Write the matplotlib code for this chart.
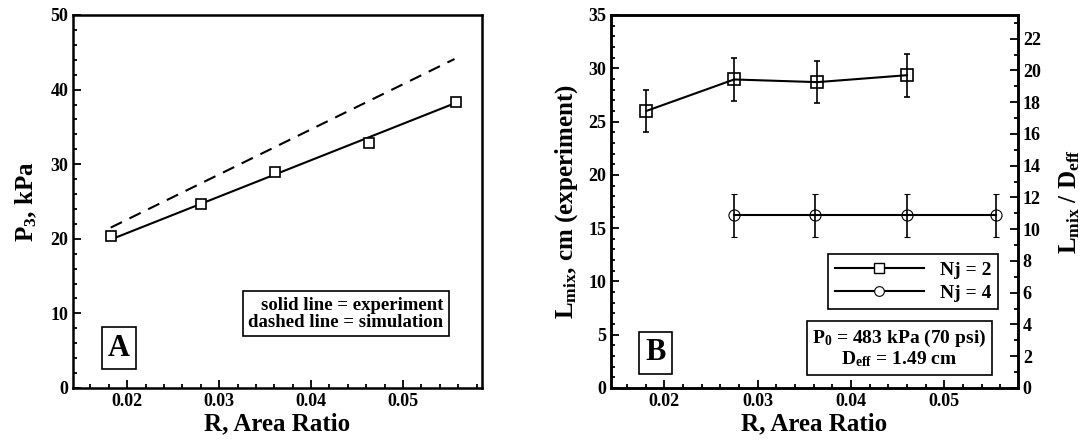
import matplotlib
matplotlib.use("Agg")
import matplotlib.pyplot as plt
from matplotlib.lines import Line2D
from matplotlib.ticker import MultipleLocator

plt.rcParams['font.family'] = 'Liberation Serif'
plt.rcParams['font.weight'] = 'bold'
plt.rcParams['axes.labelweight'] = 'bold'
plt.rcParams['mathtext.fontset'] = 'custom'
plt.rcParams['mathtext.rm'] = 'Liberation Serif:bold'
plt.rcParams['mathtext.it'] = 'Liberation Serif:bold'

# panel A data
a_x = [0.0182, 0.0280, 0.0361, 0.0463, 0.0558]
a_p3 = [20.4, 24.6, 28.9, 32.9, 38.3]
a_fit_x = [0.0182, 0.0557]
a_fit_y = [19.9, 38.2]
a_sim_x = [0.0182, 0.0556]
a_sim_y = [21.5, 44.1]

# panel B data
nj2_x = [0.0181, 0.0275, 0.0364, 0.0460]
nj2_l = [26.0, 28.95, 28.7, 29.35]
nj2_err = [2.0, 2.0, 2.0, 2.0]
nj4_x = [0.0275, 0.0362, 0.0460, 0.0555]
nj4_l = [16.2, 16.2, 16.2, 16.2]
nj4_err = [2.0, 2.0, 2.0, 2.0]
d_eff = 1.49

fig = plt.figure(figsize=(10.85, 4.41), dpi=100)
axA = fig.add_axes([0.0673, 0.1202, 0.377, 0.8458])
axB = fig.add_axes([0.5631, 0.1202, 0.3751, 0.8458])


def style(ax):
    for s in ax.spines.values():
        s.set_linewidth(1.8)
    ax.tick_params(which='both', direction='in', top=False, right=False,
                   labelsize=13, width=1.3)
    ax.tick_params(which='major', length=6)
    ax.tick_params(which='minor', length=3)
    ax.xaxis.set_major_locator(MultipleLocator(0.01))
    ax.xaxis.set_minor_locator(MultipleLocator(0.002))
    ax.set_xticks([0.02, 0.03, 0.04, 0.05])
    ax.set_xticklabels(['0.02', '0.03', '0.04', '0.05'])
    ax.set_xlabel('R, Area Ratio', fontsize=18, labelpad=2)


# ---- panel A
axA.plot(a_fit_x, a_fit_y, color='black', lw=1.5)
axA.plot(a_sim_x, a_sim_y, color='black', lw=1.5, ls=(0, (6, 4)))
axA.plot(a_x, a_p3, ls='none', marker='s', ms=7, mfc='white', mec='black', mew=1.2)
axA.set_xlim(0.0141, 0.0586)
axA.set_ylim(0, 50)
style(axA)
axA.yaxis.set_major_locator(MultipleLocator(10))
axA.yaxis.set_minor_locator(MultipleLocator(2))
axA.set_ylabel(r'P$_3$, kPa', fontsize=18, labelpad=8)
axA.text(0.667, 0.199, 'solid line = experiment\ndashed line = simulation',
         transform=axA.transAxes, ha='center', va='center', multialignment='right',
         fontsize=13.5, linespacing=1.0,
         bbox=dict(boxstyle='square,pad=0.3', fc='white', ec='black', lw=1.2))
axA.text(0.1125, 0.107, 'A', transform=axA.transAxes, ha='center', va='center',
         fontsize=22,
         bbox=dict(boxstyle='square,pad=0.2', fc='white', ec='black', lw=1.2))

# ---- panel B
axB.errorbar(nj2_x, nj2_l, yerr=nj2_err, color='black', lw=1.5, elinewidth=1.2,
             capsize=2.5, marker='s', ms=8, mfc='none', mec='black', mew=1.2)
axB.errorbar(nj4_x, nj4_l, yerr=nj4_err, color='black', lw=1.5, elinewidth=1.2,
             capsize=2.5, marker='o', ms=8, mfc='none', mec='black', mew=0.8)
axB.set_xlim(0.0143, 0.0579)
axB.set_ylim(0, 35)
style(axB)
axB.yaxis.set_major_locator(MultipleLocator(5))
axB.yaxis.set_minor_locator(MultipleLocator(1))
axB.set_ylabel(r'L$_{\mathrm{mix}}$, cm (experiment)', fontsize=18, labelpad=6)

ax2 = axB.twinx()
ax2.set_ylim(0, 35 / d_eff)
ax2.yaxis.set_major_locator(MultipleLocator(2))
ax2.yaxis.set_minor_locator(MultipleLocator(1))
ax2.tick_params(which='both', direction='in', labelsize=13, width=1.3)
ax2.tick_params(which='major', length=6)
ax2.tick_params(which='minor', length=3)
for s in ax2.spines.values():
    s.set_linewidth(1.8)
ax2.set_ylabel(r'L$_{\mathrm{mix}}$ / D$_{\mathrm{eff}}$', fontsize=18,
               rotation=90, labelpad=12)

handles = [
    Line2D([], [], color='black', lw=1.5, marker='s', ms=7, mfc='white', mec='black'),
    Line2D([], [], color='black', lw=1.5, marker='o', ms=7, mfc='white', mec='black', mew=0.8),
]
leg = axB.legend(handles, ['Nj = 2', 'Nj = 4'], loc='upper right',
                 bbox_to_anchor=(0.951, 0.359), borderaxespad=0, fontsize=14,
                 handlelength=4.6, fancybox=False, framealpha=1, edgecolor='black',
                 borderpad=0.35, labelspacing=0.3, markerfirst=True)
leg.get_frame().set_linewidth(1.2)

axB.text(0.709, 0.106, 'P$_0$ = 483 kPa (70 psi)\nD$_{\\mathrm{eff}}$ = 1.49 cm',
         transform=axB.transAxes, ha='center', va='center', multialignment='center',
         fontsize=14, linespacing=1.0,
         bbox=dict(boxstyle='square,pad=0.3', fc='white', ec='black', lw=1.2))
axB.text(0.11, 0.094, 'B', transform=axB.transAxes, ha='center', va='center',
         fontsize=22,
         bbox=dict(boxstyle='square,pad=0.2', fc='white', ec='black', lw=1.2))

fig.savefig('out.png', dpi=100)
